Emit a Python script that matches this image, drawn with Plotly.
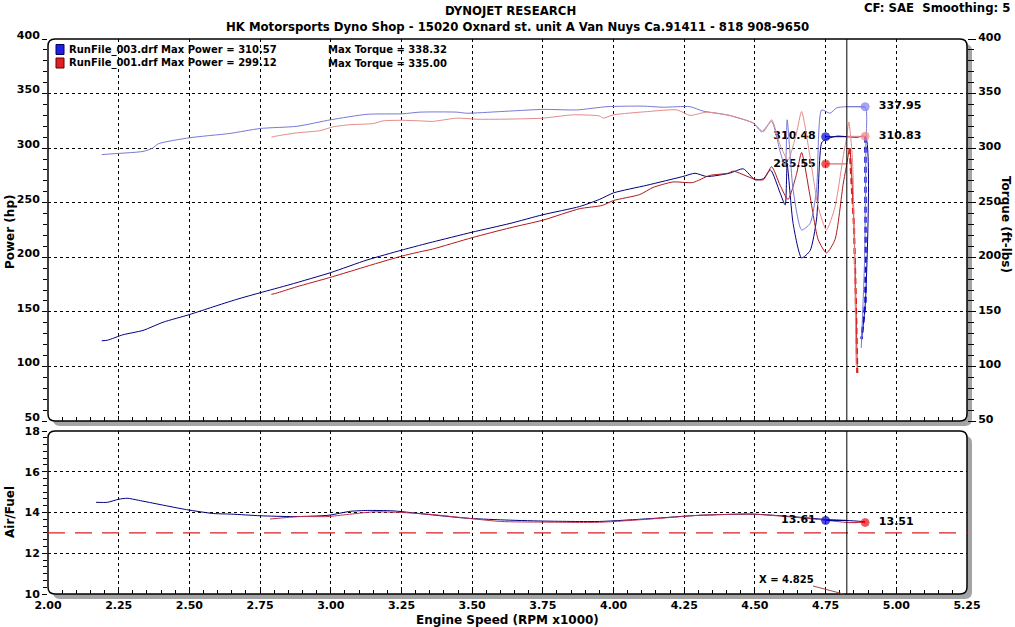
import plotly.graph_objects as go

# ---------------- data ----------------
CURSOR_X = 4.825
MARK_LEFT_X = 4.75
MARK_RIGHT_X = 4.89
AF_TARGET = 13.0

rpm_003_hp = [2.19, 2.21, 2.265, 2.336, 2.407, 2.50, 2.583, 2.668, 2.75, 2.856, 3.0, 3.128, 3.25, 3.315,
              3.36, 3.5, 3.634, 3.75, 3.88, 3.95, 4.0, 4.118, 4.245, 4.288, 4.33, 4.41, 4.459, 4.50, 4.53,
              4.555, 4.589, 4.607, 4.614, 4.635, 4.665, 4.695, 4.718, 4.736, 4.75, 4.79, 4.825, 4.86,
              4.891, 4.891, 4.877]
hp_003 = [123.5, 124, 129, 133, 140.5, 147.5, 154.5, 161.5, 167.5, 175, 186, 197.5, 206.5, 211,
          214, 223, 231, 239, 246.5, 253, 259, 266, 274, 277, 274, 277, 281, 271, 272,
          280, 259, 248, 285, 231, 199.5, 206, 235, 305, 308, 311, 310.5, 310,
          310.5, 160, 125]

rpm_003_tq = [2.19, 2.21, 2.336, 2.37, 2.39, 2.5, 2.644, 2.75, 2.88, 3.0, 3.128, 3.255, 3.315, 3.446,
              3.48, 3.6, 3.75, 3.87, 3.977, 4.104, 4.175, 4.27, 4.316, 4.41, 4.494, 4.524, 4.559,
              4.589, 4.607, 4.614, 4.635, 4.665, 4.695, 4.718, 4.736, 4.765, 4.79, 4.825, 4.86,
              4.891, 4.892, 4.888, 4.876]
tq_003 = [294, 294.5, 297, 300, 304, 309.5, 313.5, 318, 320, 326, 331, 331.5, 333, 333,
          332, 333.5, 335.5, 335, 338, 338.5, 337.5, 338, 334, 330, 323, 315, 324.5,
          297, 283, 326, 262, 225, 231, 262, 335, 332, 337, 338, 338,
          337, 300, 200, 117]

rpm_001_hp = [2.79, 2.806, 2.88, 2.997, 3.093, 3.15, 3.25, 3.315, 3.36, 3.5, 3.634, 3.75, 3.88, 3.96,
              4.0, 4.093, 4.14, 4.21, 4.28, 4.34, 4.405, 4.423, 4.494, 4.53, 4.559, 4.589, 4.617,
              4.647, 4.665, 4.695, 4.724, 4.753, 4.783, 4.812, 4.825, 4.835, 4.85, 4.857, 4.862]
hp_001 = [166, 167, 173, 181.5, 189, 193.5, 201, 205, 207.5, 218, 227, 234, 244.5, 247.5,
          252, 257.5, 264, 269, 268.5, 275, 277, 279, 272, 271, 283, 266, 253,
          276, 296, 256, 216, 204, 216, 267, 285.5, 300, 230, 160, 94]

rpm_001_tq = [2.79, 2.806, 2.88, 2.962, 3.008, 3.068, 3.15, 3.185, 3.25, 3.315, 3.36, 3.446, 3.517,
              3.6, 3.75, 3.856, 3.95, 3.963, 4.0, 4.12, 4.225, 4.27, 4.33, 4.41, 4.423, 4.494, 4.53,
              4.559, 4.589, 4.617, 4.647, 4.665, 4.695, 4.724, 4.753, 4.783, 4.812, 4.825, 4.832,
              4.845, 4.852, 4.858]
tq_001 = [310, 311, 314, 316, 319.5, 321.5, 322.5, 325, 325.5, 325, 324.5, 327.5, 326.5,
          326.5, 327.5, 330.5, 329.5, 327.5, 330.5, 333.5, 335, 330, 333, 330, 329, 323, 315,
          326, 303, 289, 314, 333.5, 292, 246, 225, 246, 292, 311, 324,
          290, 200, 101]

rpm_003_af = [2.17, 2.21, 2.25, 2.28, 2.32, 2.40, 2.49, 2.585, 2.65, 2.75, 2.87, 2.99, 3.07, 3.13,
              3.22, 3.36, 3.48, 3.6, 3.75, 3.95, 4.13, 4.30, 4.49, 4.63, 4.75, 4.825, 4.89]
af_003 = [14.5, 14.5, 14.65, 14.7, 14.6, 14.38, 14.14, 13.95, 13.92, 13.84, 13.8, 13.86, 14.06, 14.1,
          14.08, 13.88, 13.72, 13.64, 13.58, 13.56, 13.7, 13.86, 13.92, 13.8, 13.66, 13.61, 13.55]

rpm_001_af = [2.785, 2.89, 2.99, 3.057, 3.15, 3.25, 3.36, 3.6, 3.75, 3.95, 4.13, 4.30, 4.49, 4.63,
              4.75, 4.825, 4.86]
af_001 = [13.68, 13.8, 13.8, 13.9, 14.03, 14.0, 13.9, 13.56, 13.53, 13.52, 13.68, 13.86, 13.92, 13.78,
          13.62, 13.51, 13.5]

cursor_hp_003, cursor_hp_001 = 310.48, 285.55
cursor_tq_003, cursor_tq_001 = 337.95, 310.83
cursor_af_003, cursor_af_001 = 13.61, 13.51

legend_rows = [
    ("RunFile_003.drf Max Power = 310.57", "Max Torque = 338.32"),
    ("RunFile_001.drf Max Power = 299.12", "Max Torque = 335.00"),
]

# ---------------- geometry helpers ----------------
W, H = 1015, 627
ML, MR, MT, MB = 48, 48, 39, 33
PW = W - ML - MR
PH = H - MT - MB


def px_x(px):
    return (px - ML) / PW


def px_y(py):
    return (H - MB - py) / PH


TOP_DOM = [px_y(421), 1.0]
BOT_DOM = [0.0, px_y(431)]

NAVY = "#000080"
LBLUE = "#7878d8"
DRED = "#b01818"
PINK = "#e58a8a"

FONT = "DejaVu Sans"
tick_font = dict(family=FONT, size=11, color="black", weight="bold")

fig = go.Figure()


def line(x, y, color, xa="x", ya="y", width=1, dash=None, smooth=True):
    ln = dict(color=color, width=width, dash=dash)
    if smooth:
        ln.update(shape="spline", smoothing=0.6)
    fig.add_trace(go.Scatter(x=x, y=y, mode="lines", xaxis=xa, yaxis=ya, line=ln,
                             hoverinfo="skip", showlegend=False))


# torque (right axis) then power (left axis)
line(rpm_003_tq, tq_003, LBLUE, ya="y2")
line(rpm_001_tq, tq_001, PINK, ya="y2")
line(rpm_003_hp, hp_003, NAVY)
line(rpm_001_hp, hp_001, DRED)
# thick dashed look of the final drops
line(rpm_003_hp[-3:], hp_003[-3:], "#1010d0", width=2.5, dash="6px,4px", smooth=False)
line(rpm_001_hp[-4:], hp_001[-4:], "#e02020", width=2.2, dash="6px,4px", smooth=False)

# air / fuel
line([2.0, 5.25], [AF_TARGET, AF_TARGET], "#d82020", xa="x2", ya="y3", width=1.2, dash="17px,10px",
     smooth=False)
line(rpm_003_af, af_003, NAVY, xa="x2", ya="y3")
line(rpm_001_af, af_001, "#c03050", xa="x2", ya="y3")


def cursor_mark(xm, val, color, lcolor, label, side, xa="x", ya="y"):
    fig.add_trace(go.Scatter(
        x=[xm, CURSOR_X], y=[val, val], mode="lines+markers+text", xaxis=xa, yaxis=ya,
        line=dict(color=lcolor, width=1), marker=dict(color=color, size=[8, 0]),
        text=[label, ""], textposition="middle left" if side == "left" else "middle right",
        textfont=dict(family=FONT, size=11, color="black", weight="bold"),
        hoverinfo="skip", showlegend=False, cliponaxis=False))


cursor_mark(MARK_LEFT_X, cursor_hp_003, "#0000ff", NAVY, f"{cursor_hp_003:.2f} ", "left")
cursor_mark(MARK_LEFT_X, cursor_hp_001, "#ff0000", "#c05050", f"{cursor_hp_001:.2f} ", "left")
cursor_mark(MARK_RIGHT_X, cursor_tq_003, "#8080ff", LBLUE, f"  {cursor_tq_003:.2f}", "right", ya="y2")
cursor_mark(MARK_RIGHT_X, cursor_tq_001, "#ff8080", PINK, f"  {cursor_tq_001:.2f}", "right", ya="y2")
cursor_mark(MARK_LEFT_X, cursor_af_003, "#0000ff", NAVY, f"{cursor_af_003:.2f} ", "left", xa="x2", ya="y3")
cursor_mark(MARK_RIGHT_X, cursor_af_001, "#ff0000", "#c03050", f"  {cursor_af_001:.2f}", "right", xa="x2", ya="y3")

grid = dict(showgrid=True, gridcolor="black", griddash="3px,3px", gridwidth=1, zeroline=False,
            showline=False)

fig.update_layout(
    width=W, height=H, margin=dict(l=ML, r=MR, t=MT, b=MB),
    paper_bgcolor="white", plot_bgcolor="rgba(0,0,0,0)", showlegend=False,
    xaxis=dict(domain=[0, 1], anchor="y", range=[2, 5.25], tick0=2, dtick=0.25, showticklabels=False,
               ticks="inside", ticklen=5, tickcolor="black",
               minor=dict(dtick=0.05, ticks="inside", ticklen=4, tickcolor="black", showgrid=False), **grid),
    xaxis2=dict(domain=[0, 1], anchor="y3", range=[2, 5.25], tick0=2, dtick=0.25, tickformat=".2f",
                ticks="inside", ticklen=5, tickcolor="black", tickfont=tick_font, ticklabelstandoff=3,
                minor=dict(dtick=0.05, ticks="inside", ticklen=4, tickcolor="black", showgrid=False), **grid),
    yaxis=dict(domain=TOP_DOM, anchor="x", range=[50, 400], tick0=50, dtick=50, ticks="outside",
               ticklen=5, tickcolor="black", tickfont=tick_font, ticklabelshift=-4,
               minor=dict(dtick=10, ticks="outside", ticklen=4, tickcolor="black", showgrid=False), **grid),
    yaxis2=dict(overlaying="y", anchor="x", side="right", range=[50, 400], tick0=50, dtick=50,
                ticks="outside", ticklen=8, tickcolor="black", tickfont=tick_font, showgrid=False,
                zeroline=False, showline=False, ticklabelshift=-2,
                minor=dict(dtick=10, ticks="outside", ticklen=6, tickcolor="black")),
    yaxis3=dict(domain=BOT_DOM, anchor="x2", range=[10, 18], tick0=10, dtick=2, ticks="outside",
                ticklen=5, tickcolor="black", tickfont=tick_font,
                minor=dict(dtick=2 / 6, ticks="outside", ticklen=4, tickcolor="black", showgrid=False), **grid),
)


# ---------------- frames with rounded corners and shadow ----------------
def rounded_path(x0, y0, x1, y1, r_px=7):
    rx, ry = r_px / PW, r_px / PH
    return (f"M {x0 + rx},{y0} L {x1 - rx},{y0} Q {x1},{y0} {x1},{y0 + ry} "
            f"L {x1},{y1 - ry} Q {x1},{y1} {x1 - rx},{y1} L {x0 + rx},{y1} "
            f"Q {x0},{y1} {x0},{y1 - ry} L {x0},{y0 + ry} Q {x0},{y0} {x0 + rx},{y0} Z")


shapes = []
for dom in (TOP_DOM, BOT_DOM):
    sx, sy = 5 / PW, 5 / PH
    shapes.append(dict(type="path", xref="paper", yref="paper", layer="below",
                       path=rounded_path(0 + sx, dom[0] - sy, 1 + sx, dom[1] - sy),
                       fillcolor="#a4a4a4", line=dict(width=0)))
    shapes.append(dict(type="path", xref="paper", yref="paper", layer="below",
                       path=rounded_path(0, dom[0], 1, dom[1]),
                       fillcolor="white", line=dict(color="black", width=1.5)))

# cursor line in both panels
shapes.append(dict(type="line", xref="x", yref="y domain", x0=CURSOR_X, x1=CURSOR_X, y0=0, y1=1,
                   line=dict(color="black", width=1)))
shapes.append(dict(type="line", xref="x2", yref="y3 domain", x0=CURSOR_X, x1=CURSOR_X, y0=0, y1=1,
                   line=dict(color="black", width=1)))

# legend icons
for i, col in enumerate(["#2020e0", "#e02020"]):
    cy = 49.5 + 13.5 * i
    shapes.append(dict(type="rect", xref="paper", yref="paper", x0=px_x(56), x1=px_x(64),
                       y0=px_y(cy + 5), y1=px_y(cy - 5), fillcolor=col,
                       line=dict(color="#000060" if i == 0 else "#600000", width=1)))
fig.update_layout(shapes=shapes)

# ---------------- texts ----------------
ann = []


def text(px, py, s, size=11, xanchor="center", angle=0, family=FONT, bold=True, yanchor="middle"):
    ann.append(dict(x=px_x(px), y=px_y(py), xref="paper", yref="paper", text=s, showarrow=False,
                    xanchor=xanchor, yanchor=yanchor, textangle=angle,
                    font=dict(family=family, size=size, color="black", weight="bold" if bold else "normal")))


text(510, 10, "DYNOJET RESEARCH", size=13, family="DejaVu Sans Condensed")
text(517, 26, "HK Motorsports Dyno Shop - 15020 Oxnard st. unit A Van Nuys Ca.91411 - 818 908-9650",
     size=13, family="DejaVu Sans Condensed")
text(1012, 8, "CF: SAE  Smoothing: 5", size=13, xanchor="right", family="DejaVu Sans Condensed")
text(10, 232, "Power (hp)", size=12, angle=-90)
text(1006, 225, "Torque (ft-lbs)", size=12, angle=90)
text(10, 512, "Air/Fuel", size=12, angle=-90)
text(507, 620, "Engine Speed (RPM x1000)", size=12)
for i, (a, b) in enumerate(legend_rows):
    cy = 49.5 + 13.5 * i
    text(67, cy, a, size=10, xanchor="left")
    text(326, cy, b, size=10, xanchor="left")

ann.append(dict(x=CURSOR_X - 0.012, y=10, xref="x2", yref="y3", ax=-57, ay=-15,
                text=f"X = {CURSOR_X:.3f}", showarrow=True, arrowhead=0, arrowwidth=1,
                arrowcolor="#a04848", standoff=0,
                font=dict(family=FONT, size=10, color="black", weight="bold")))
fig.update_layout(annotations=ann)

fig.write_html("out.html")
